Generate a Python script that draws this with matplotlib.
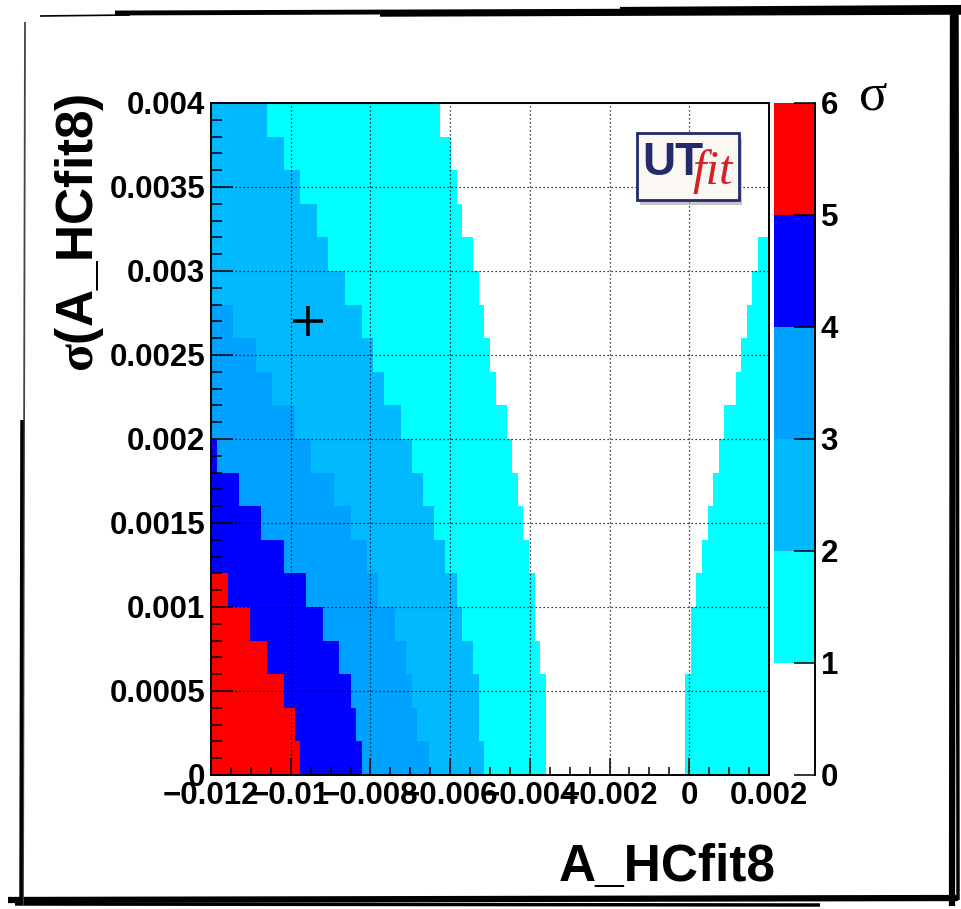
import matplotlib.pyplot as plt
from matplotlib.lines import Line2D
from matplotlib.patches import Rectangle
from matplotlib.ticker import MultipleLocator

plt.rcParams['font.family'] = ['Liberation Sans', 'DejaVu Sans']
plt.rcParams['font.weight'] = 'bold'
plt.rcParams['mathtext.fontset'] = 'custom'
plt.rcParams['mathtext.rm'] = 'Liberation Serif'

# scan rows in sigma(A_HCfit8): lower edge of each row
y_rows = [0.0, 0.0002, 0.0004, 0.0006, 0.0008, 0.0010, 0.0012, 0.0014, 0.0016, 0.0018,
          0.0020, 0.0022, 0.0024, 0.0026, 0.0028, 0.0030, 0.0032, 0.0034, 0.0036, 0.0038]
row_height = 0.0002

# A_HCfit8 where each row crosses the n-sigma contour
edge_5sig = [-0.00976, -0.0099, -0.01018, -0.0106, -0.01102, -0.01158, -0.012, -0.012, -0.012, -0.012,
             -0.012, -0.012, -0.012, -0.012, -0.012, -0.012, -0.012, -0.012, -0.012, -0.012]
edge_4sig = [-0.00822, -0.00836, -0.0085, -0.00878, -0.0092, -0.00962, -0.01018, -0.01074, -0.0113, -0.01186,
             -0.012, -0.012, -0.012, -0.012, -0.012, -0.012, -0.012, -0.012, -0.012, -0.012]
edge_3sig = [-0.00654, -0.00682, -0.00696, -0.0071, -0.00738, -0.0078, -0.00808, -0.0085, -0.00892, -0.00948,
             -0.0099, -0.01046, -0.01088, -0.01144, -0.012, -0.012, -0.012, -0.012, -0.012, -0.012]
edge_2sig = [-0.00514, -0.00528, -0.00528, -0.00542, -0.0057, -0.00584, -0.00612, -0.0064, -0.00668, -0.00696,
             -0.00724, -0.00766, -0.00794, -0.00822, -0.00864, -0.00906, -0.00934, -0.00976, -0.01018, -0.0106]
edge_1sig_left = [-0.0036, -0.0036, -0.0036, -0.00374, -0.00388, -0.00388, -0.00402, -0.00416, -0.0043, -0.00444,
                  -0.00458, -0.00486, -0.005, -0.00514, -0.00528, -0.00542, -0.0057, -0.00584, -0.00598, -0.00626]
edge_1sig_right = [-0.0001, -0.0001, -0.0001, 0.00004, 0.00004, 0.00018, 0.00032, 0.00046, 0.0006, 0.00074,
                   0.00088, 0.00116, 0.0013, 0.00144, 0.00158, 0.00172, 0.002, 0.002, 0.002, 0.002]

x_min, x_max = -0.012, 0.002
y_min, y_max = 0.0, 0.004

sigma_levels = [0, 1, 2, 3, 4, 5, 6]
sigma_colors = ['white', '#00ffff', '#00b9ff', '#00a2ff', '#0000ff', '#ff0000']

best_fit = (-0.00956, 0.0027)

x_ticks = [-0.012, -0.01, -0.008, -0.006, -0.004, -0.002, 0.0, 0.002]
x_tick_labels = ['\u22120.012', '\u22120.01', '\u22120.008', '\u22120.006', '\u22120.004', '\u22120.002', '0', '0.002']
y_ticks = [0.0, 0.0005, 0.001, 0.0015, 0.002, 0.0025, 0.003, 0.0035, 0.004]
y_tick_labels = ['0', '0.0005', '0.001', '0.0015', '0.002', '0.0025', '0.003', '0.0035', '0.004']

W, H = 962, 909
fig = plt.figure(figsize=(W / 100, H / 100), dpi=100)
ax = fig.add_axes([211 / W, 1 - 775 / H, 558 / W, 672 / H])
cax = fig.add_axes([774 / W, 1 - 775 / H, 41 / W, 672 / H])

# each contour region is filled from the left edge, higher sigma painted on top
n = len(y_rows)
regions = [
    (edge_1sig_left, sigma_colors[1]),
    (edge_2sig, sigma_colors[2]),
    (edge_3sig, sigma_colors[3]),
    (edge_4sig, sigma_colors[4]),
    (edge_5sig, sigma_colors[5]),
]
for z, (edge, col) in enumerate(regions):
    widths = [e - x_min for e in edge]
    ax.barh(y_rows, widths, left=x_min, height=row_height, align='edge',
            color=col, linewidth=0, antialiased=False, zorder=1 + 0.01 * z)
# 1 sigma region on the positive side
ax.barh(y_rows, [x_max - e for e in edge_1sig_right], left=edge_1sig_right, height=row_height,
        align='edge', color=sigma_colors[1], linewidth=0, antialiased=False, zorder=1)

ax.plot(*best_fit, marker='+', markersize=21, markeredgewidth=2.6, color='black', zorder=4)

ax.set_xlim(x_min, x_max)
ax.set_ylim(y_min, y_max)
ax.set_xticks(x_ticks)
ax.set_xticklabels(x_tick_labels)
ax.set_yticks(y_ticks)
ax.set_yticklabels(y_tick_labels)
ax.xaxis.set_minor_locator(MultipleLocator(0.0005))
ax.yaxis.set_minor_locator(MultipleLocator(0.0001))
ax.tick_params(which='both', direction='in', top=False, right=False, width=1.1, color='black')
ax.tick_params(axis='y', which='major', length=16, pad=4, labelsize=22.5)
ax.tick_params(axis='y', which='minor', length=8)
ax.tick_params(axis='x', which='major', length=12, pad=4, labelsize=22.5)
ax.tick_params(axis='x', which='minor', length=6)
ax.grid(True, which='major', color='black', linestyle=(0, (1, 2.2)), linewidth=0.9)
for s in ax.spines.values():
    s.set_linewidth(1.4)

# UTfit logo
ax.add_patch(Rectangle((0.769, 0.848), 0.183, 0.099, transform=ax.transAxes,
                       facecolor='#a0a0a0', edgecolor='none', alpha=0.6, zorder=5))
ax.add_patch(Rectangle((0.763, 0.856), 0.183, 0.099, transform=ax.transAxes,
                       facecolor='#fbf7f2', edgecolor='#232a6b', linewidth=2, zorder=6))
ax.text(0.772, 0.893, 'UT', transform=ax.transAxes, color='#262a6b', fontsize=33,
        fontweight='bold', va='baseline', ha='left', zorder=7)
ax.text(0.862, 0.880, 'fit', transform=ax.transAxes, color='#d42027', fontsize=35,
        family='Liberation Serif', style='italic', fontweight='normal',
        va='baseline', ha='left', zorder=7)

# palette
for lo, hi, col in zip(sigma_levels[:-1], sigma_levels[1:], sigma_colors):
    cax.bar(0.5, hi - lo, bottom=lo, width=1.0, color=col, linewidth=0, antialiased=False, zorder=1)
cax.set_xlim(0, 1)
cax.set_ylim(sigma_levels[0], sigma_levels[-1])
cax.set_xticks([])
cax.set_yticks(sigma_levels)
cax.yaxis.tick_right()
cax.tick_params(axis='y', direction='in', length=15, width=1.1, pad=4, labelsize=22.5)
for side in ['left', 'top', 'bottom']:
    cax.spines[side].set_visible(False)
cax.spines['right'].set_linewidth(1.4)

fig.text(776 / W, 1 - 881 / H, 'A_HCfit8', ha='right', va='baseline', fontsize=37, fontweight='bold')
fig.text(80 / W, 1 - 93 / H, r'$\mathrm{\sigma}$(A_HCfit8)', rotation=90, ha='center', va='top',
         fontsize=37, fontweight='bold')
fig.text(873 / W, 1 - 97 / H, '\u03c3', ha='center', va='center', fontsize=38,
         family='Liberation Serif', fontweight='normal')


# rough hand-drawn border around the canvas
def stroke(x0, y0, x1, y1, lw, color='black'):
    fig.add_artist(Line2D([x0 / W, x1 / W], [1 - y0 / H, 1 - y1 / H], transform=fig.transFigure,
                          color=color, linewidth=lw, solid_capstyle='butt'))


stroke(40, 16, 130, 15, 1.2)
stroke(115, 13, 962, 10, 3.5)
stroke(380, 15, 962, 13, 2.5)
stroke(620, 9, 962, 7, 3)
stroke(953, 8, 952, 906, 4.5)
stroke(957, 10, 958, 900, 2.5)
stroke(8, 900, 958, 898, 4.5)
stroke(15, 904, 820, 905, 2.5)
stroke(25, 22, 23, 905, 1.3, '#444444')
stroke(22, 420, 21, 905, 2.5)

fig.savefig('out.png', dpi=100)
